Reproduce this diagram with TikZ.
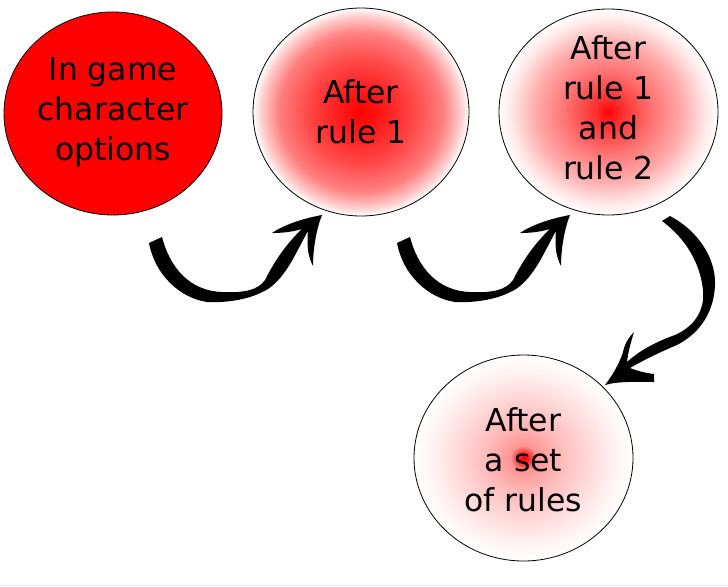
\documentclass[tikz,border=0pt]{standalone}
\usepackage{fontspec}
\setmainfont{DejaVu Sans}
\usetikzlibrary{shapes.geometric}
\pgfdeclareradialshading{shB}{\pgfpoint{0bp}{0bp}}{color(0bp)=(red); color(5bp)=(red!90); color(13bp)=(red!70); color(19bp)=(red!50); color(23bp)=(red!20); color(25bp)=(white); color(50bp)=(white)}
\pgfdeclareradialshading{shC}{\pgfpoint{0bp}{0bp}}{color(0bp)=(red); color(3bp)=(red!82); color(10bp)=(red!55); color(17bp)=(red!32); color(22bp)=(red!10); color(25bp)=(white); color(50bp)=(white)}
\pgfdeclareradialshading{shD}{\pgfpoint{0bp}{0bp}}{color(0bp)=(red); color(1.2bp)=(red!85); color(3bp)=(red!42); color(8bp)=(red!28); color(15bp)=(red!15); color(21bp)=(red!5); color(25bp)=(white); color(50bp)=(white)}
\tikzset{
  bubble/.style={ellipse, draw=black, line width=0.6pt, inner sep=0pt},
  btext/.style={align=center, font=\fontsize{23.6}{30}\selectfont, inner sep=0pt},
  curly/.style={fill=black, draw=none}
}
\newcommand{\curlypath}{%
  (149,243) -- (162,237)
  .. controls (170,268) and (190,291) .. (222,292)
  .. controls (245,293) and (258,290) .. (265,280)
  .. controls (274,262) and (286,244) .. (302,229)
  .. controls (292,232) and (282,233) .. (272,233)
  .. controls (282,226) and (300,219) .. (322,215)
  .. controls (316,230) and (313,250) .. (313,266)
  .. controls (307,255) and (307,242) .. (308,231)
  .. controls (296,252) and (287,276) .. (268,289)
  .. controls (250,300) and (225,303) .. (207,302)
  .. controls (180,298) and (155,275) .. (149,243) -- cycle}
\begin{document}
\begin{tikzpicture}[x=0.75pt,y=-0.75pt]
\useasboundingbox (0,0) rectangle (728,586);
\draw[gray!15, line width=0.75pt] (0,585.5) -- (728,585.5);
% bubbles
\node[bubble, fill=red, minimum width=163.5pt, minimum height=152.25pt] (c1) at (113,113.5) {};
\node[bubble, shade, shading=shB, minimum width=162pt, minimum height=156pt] (c2) at (361,112) {};
\node[bubble, shade, shading=shC, minimum width=164.25pt, minimum height=154.5pt] (c3) at (608.5,112) {};
\node[bubble, shade, shading=shD, minimum width=164.25pt, minimum height=154.5pt] (c4) at (523.5,458) {};
% texts
\node[btext] (t1) at ([yshift=1pt]c1.center) {In game\\character\\options};
\node[btext] (t2) at ([yshift=0pt]c2.center) {After\\rule 1};
\node[btext] (t3) at ([yshift=3pt]c3.center) {After\\rule 1\\and\\rule 2};
\node[btext] (t4) at ([yshift=-1pt]c4.center) {After\\a set\\of rules};
% curly arrows
\fill[curly] \curlypath;
\begin{scope}[xshift=186pt]
\fill[curly] \curlypath;
\end{scope}
\fill[curly] (662,221) -- (670,216)
  .. controls (700,232) and (716,260) .. (715,285)
  .. controls (714,310) and (702,332) .. (677,345)
  .. controls (660,352) and (642,361) .. (630,368)
  .. controls (638,371) and (645,373) .. (654,374)
  -- (654,382)
  .. controls (638,382) and (618,381) .. (605,385)
  .. controls (615,372) and (622,358) .. (624,348)
  .. controls (626,342) and (629,337) .. (634,332)
  .. controls (631,342) and (628,352) .. (627,362)
  .. controls (640,350) and (658,341) .. (675,335)
  .. controls (695,326) and (705,310) .. (703,290)
  .. controls (700,262) and (685,238) .. (662,221) -- cycle;
\end{tikzpicture}
\end{document}
